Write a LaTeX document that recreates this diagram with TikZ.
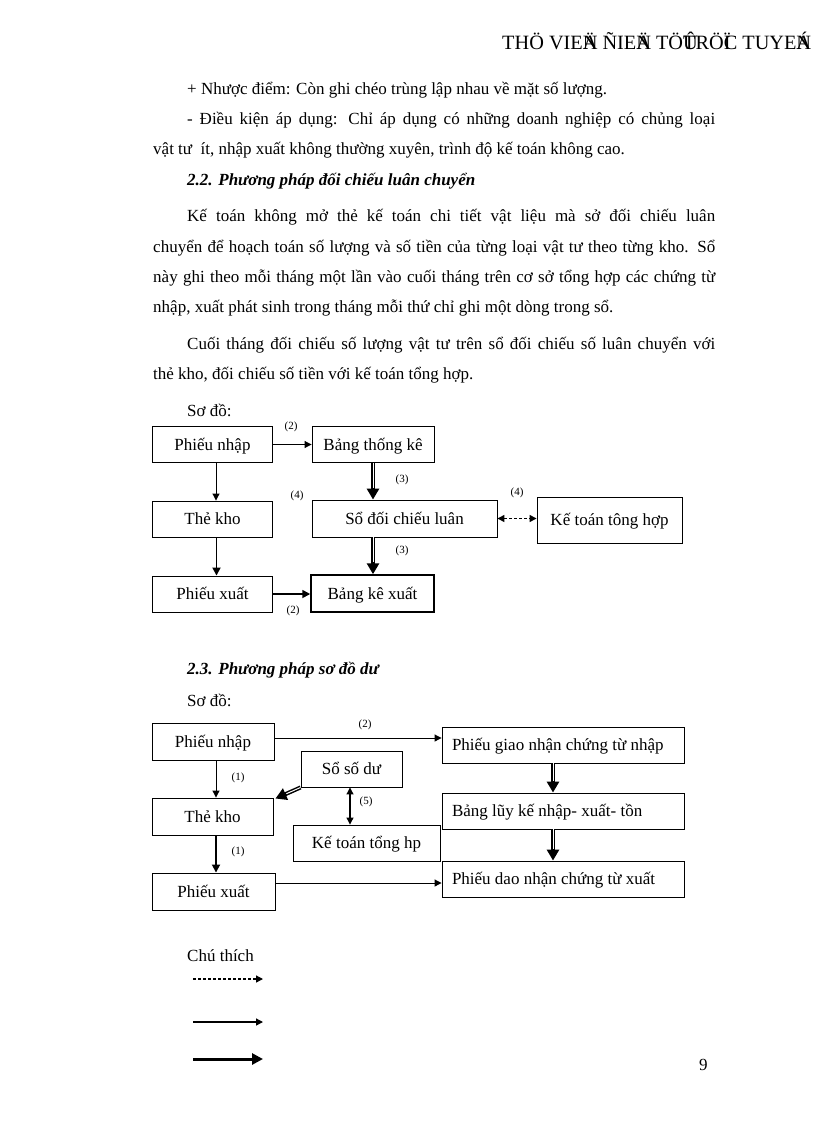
\documentclass[tikz,border=0pt]{standalone}
\usepackage{fontspec}
\setmainfont{Liberation Serif}
\usetikzlibrary{arrows.meta}
\newcommand{\bodyfont}{\fontsize{17}{20}\selectfont}
\begin{document}
\begin{tikzpicture}[x=1pt,y=-1pt,
  txt/.style={anchor=base west, inner sep=0pt, font=\bodyfont},
  hd/.style={anchor=base west, inner sep=0pt, font=\bodyfont\bfseries\itshape},
  box/.style={draw, line width=0.9pt, inner sep=0pt, text height=15pt, text depth=4pt, font=\bodyfont},
  wbox/.style={box, minimum width=242pt, minimum height=36pt, inner xsep=10pt},
  lbl/.style={inner sep=0pt, font=\fontsize{11}{12}\selectfont},
  thinarr/.style={line width=1pt, -{Triangle[length=7pt,width=7pt]}},
  midarr/.style={line width=1.7pt, -{Triangle[length=8pt,width=8pt]}},
  dblarr/.style={line width=4pt, -{Triangle[length=11pt,width=12pt]},
     postaction={draw=white, line width=1pt, -, shorten >=12pt}},
  dsharr/.style={line width=1.3pt, dash pattern=on 3pt off 2pt,
     {Triangle[length=7pt,width=7pt]}-{Triangle[length=7pt,width=7pt]}},
  twoarr/.style={line width=1.1pt, {Triangle[length=7pt,width=7pt]}-{Triangle[length=7pt,width=7pt]}},
  bigarr/.style={line width=3pt, -{Triangle[length=11pt,width=11pt]}},
]
\useasboundingbox (0,0) rectangle (816,1123);

% header
\node[anchor=base west, inner sep=0pt, font=\fontsize{20.3}{21}\selectfont] (hdr) at (502,50)
  {THÖ VIE\rlap{Ä}N ÑIE\rlap{Ä}N TÖ\rlap{Û}TRÖ\rlap{Ï}C TUYE\rlap{Á}N};

% body text
\node[txt] (t1) at (187,95) {+ Nhược điểm: Còn ghi chéo trùng lập nhau về mặt số lượng.};
\node[txt] (t2) at (187,125) {\hbox to 528pt{- Điều kiện áp dụng: Chỉ áp dụng có những doanh nghiệp có chủng loại}};
\node[txt] (t3) at (153,155) {vật tư \ ít, nhập xuất không thường xuyên, trình độ kế toán không cao.};
\node[hd] (h22) at (187,186) {2.2. Phương pháp đối chiếu luân chuyển};
\node[txt] (t5) at (187,222) {\hbox to 528pt{Kế toán không mở thẻ kế toán chi tiết vật liệu mà sở đối chiếu luân}};
\node[txt] (t6) at (153,252) {\hbox to 562pt{chuyển để hoạch toán số lượng và số tiền của từng loại vật tư theo từng kho. Sổ}};
\node[txt] (t7) at (153,282) {\hbox to 562pt{này ghi theo mỗi tháng một lần vào cuối tháng trên cơ sở tổng hợp các chứng từ}};
\node[txt] (t8) at (153,312) {nhập, xuất phát sinh trong tháng mỗi thứ chỉ ghi một dòng trong sổ.};
\node[txt] (t9) at (187,349) {\hbox to 528pt{Cuối tháng đối chiếu số lượng vật tư trên sổ đối chiếu số luân chuyển với}};
\node[txt] (t10) at (153,379) {thẻ kho, đối chiếu số tiền với kế toán tổng hợp.};
\node[txt] (so1) at (187,416) {Sơ đồ:};

% diagram 1
\node[box, minimum width=120pt, minimum height=36pt] (pn1) at (212.5,444.5) {Phiếu nhập};
\node[box, minimum width=122pt, minimum height=36pt] (btk) at (373,444.5) {Bảng thống kê};
\node[box, minimum width=120pt, minimum height=36pt] (tk1) at (212.5,519) {Thẻ kho};
\node[box, minimum width=185pt, minimum height=37pt] (sdc) at (404.5,518.5) {Sổ đối chiếu luân};
\node[box, minimum width=145pt, minimum height=46pt] (kt1) at (609.5,520) {Kế toán tông hợp};
\node[box, minimum width=120pt, minimum height=36pt] (px1) at (212.5,594) {Phiếu xuất};
\node[box, line width=1.5pt, minimum width=123pt, minimum height=37pt] (bkx) at (372.5,593.5) {Bảng kê xuất};

\draw[thinarr] (pn1.east) -- (pn1.east -| btk.west);
\draw[thinarr] ([xshift=3.5pt]pn1.south) -- ([xshift=3.5pt]pn1.south |- tk1.north);
\draw[midarr] ([xshift=4pt]tk1.south) -- ([xshift=4pt]tk1.south |- px1.north);
\draw[midarr] (px1.east) -- (px1.east -| bkx.west);
\draw[dblarr] (btk.south) -- (btk.south |- sdc.north);
\draw[dblarr] (sdc.south -| btk.south) -- (bkx.north -| btk.south);
\draw[dsharr] (sdc.east) -- (sdc.east -| kt1.west);

\node[lbl] (l2a) at (291,427) {(2)};
\node[lbl] (l3a) at (402,480) {(3)};
\node[lbl] (l4a) at (297,496) {(4)};
\node[lbl] (l4b) at (517,493) {(4)};
\node[lbl] (l3b) at (402,551) {(3)};
\node[lbl] (l2b) at (293,611) {(2)};

% section 2.3
\node[hd] (h23) at (187,674) {2.3. Phương pháp sơ đồ dư};
\node[txt] (so2) at (187,706) {Sơ đồ:};

\node[box, minimum width=122pt, minimum height=37pt] (pn2) at (213,741.5) {Phiếu nhập};
\node[box, minimum width=101pt, minimum height=36pt] (ssd) at (351.5,769) {Sổ số dư};
\node[box, minimum width=121pt, minimum height=37pt] (tk2) at (212.5,816.5) {Thẻ kho};
\node[box, minimum width=147pt, minimum height=36pt] (kt2) at (366.5,843) {Kế toán tổng hp};
\node[box, minimum width=123pt, minimum height=37pt] (px2) at (213.5,891.5) {Phiếu xuất};
\node[wbox] (pg) at (563,745) {\makebox[222pt][l]{Phiếu giao nhận chứng từ nhập}};
\node[wbox] (bl) at (563,811) {\makebox[222pt][l]{Bảng lũy kế nhập- xuất- tồn}};
\node[wbox] (pd) at (563,879) {\makebox[222pt][l]{Phiếu dao nhận chứng từ xuất}};

\draw[thinarr] ([yshift=3.5pt]pn2.east) -- ([yshift=3.5pt]pn2.east -| pg.west);
\draw[thinarr] ([xshift=3pt]pn2.south) -- ([xshift=3pt]pn2.south |- tk2.north);
\draw[midarr] ([xshift=3.5pt]tk2.south) -- ([xshift=3.5pt]tk2.south |- px2.north);
\draw[dblarr] (ssd.south west) -- ([xshift=2pt,yshift=-1pt]tk2.north east);
\draw[twoarr] ([xshift=-1.5pt]ssd.south) -- ([xshift=-1.5pt]ssd.south |- kt2.north);
\draw[thinarr] ([yshift=8.5pt]px2.east) -- ([yshift=8.5pt]px2.east -| pd.west);
\draw[dblarr] ([xshift=-10pt]pg.south) -- ([xshift=-10pt]pg.south |- bl.north);
\draw[dblarr] ([xshift=-10pt]bl.south) -- ([xshift=-10pt]bl.south |- pd.north);

\node[lbl] (m2) at (365,725) {(2)};
\node[lbl] (m1a) at (238,778) {(1)};
\node[lbl] (m5) at (366,802) {(5)};
\node[lbl] (m1b) at (238,852) {(1)};

% legend
\node[txt] (ct) at (187,961) {Chú thích};
\coordinate (a1) at (193,979); \coordinate (b1) at (263,979);
\coordinate (a2) at (193,1022); \coordinate (b2) at (263,1022);
\coordinate (a3) at (193,1059); \coordinate (b3) at (263,1059);
\draw[line width=1.3pt, dash pattern=on 3pt off 2pt, -{Triangle[length=7pt,width=7pt]}] (a1) -- (b1);
\draw[line width=1.3pt, -{Triangle[length=7pt,width=7pt]}] (a2) -- (b2);
\draw[bigarr] (a3) -- (b3);

\node[txt] (pg9) at (699,1070) {9};
\end{tikzpicture}
\end{document}
